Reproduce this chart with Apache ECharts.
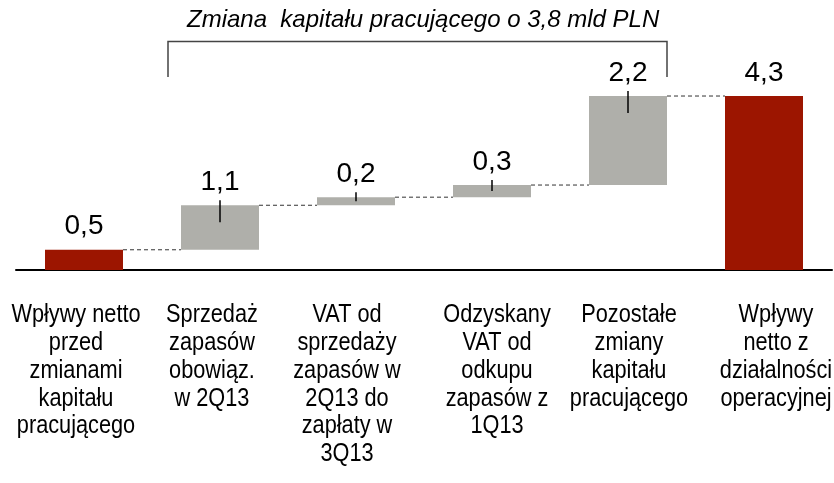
<!DOCTYPE html>
<html>
<head>
<meta charset="utf-8">
<script src="https://cdn.jsdelivr.net/npm/echarts@6/dist/echarts.min.js"></script>
<style>
  html, body { margin: 0; padding: 0; background: #fff; }
  #chart { width: 834px; height: 483px; }
</style>
</head>
<body>
<div id="chart"></div>
<script>
// dane
const categories = [
  'Wpływy netto\nprzed\nzmianami\nkapitału\npracującego',
  'Sprzedaż\nzapasów\nobowiąz.\nw 2Q13',
  'VAT od\nsprzedaży\nzapasów w\n2Q13 do\nzapłaty w\n3Q13',
  'Odzyskany\nVAT od\nodkupu\nzapasów z\n1Q13',
  'Pozostałe\nzmiany\nkapitału\npracującego',
  'Wpływy\nnetto z\ndziałalności\noperacyjnej'
];
const values = [0.5, 1.1, 0.2, 0.3, 2.2, 4.3];
const isTotal = [true, false, false, false, false, true];
const titleText = 'Zmiana  kapitału pracującego o 3,8 mld PLN';

const RED = '#9C1500';
const GREY = '#AFAFAA';
const FONT = '"Liberation Sans", Arial, sans-serif';
// przesunięcie podpisów względem środka słupka (jak w oryginale)
const labelShift = [-8, -8, -9, 5, 1, 12];

// podstawy słupków (waterfall)
let base = [];
let run = 0;
values.forEach((v, i) => {
  if (isTotal[i] && i > 0) { base.push(0); run = v; }
  else { base.push(run); run += v; }
});
const tops = values.map((v, i) => base[i] + v);

let myChart = echarts.init(document.getElementById('chart'));

myChart.setOption({
  animation: false,
  grid: { left: 16, right: 2, top: 67.7, bottom: 213 },
  xAxis: {
    type: 'category',
    data: categories,
    axisLine: { show: true, lineStyle: { color: '#000', width: 2 } },
    axisTick: { show: false },
    axisLabel: { show: false }
  },
  yAxis: {
    type: 'value', min: 0, max: 5, show: false, splitLine: { show: false }
  },
  series: [
    {
      type: 'bar', stack: 'w', barWidth: 78, silent: true,
      itemStyle: { color: 'transparent' },
      data: base
    },
    {
      type: 'bar', stack: 'w', barWidth: 78,
      data: values.map((v, i) => ({
        value: v,
        itemStyle: { color: isTotal[i] ? RED : GREY }
      })),
      label: {
        show: true, position: 'top', distance: 9,
        fontFamily: FONT, fontSize: 28, color: '#000',
        formatter: p => String(p.value).replace('.', ',')
      }
    },
    {
      // linie łączące (przerywane)
      type: 'custom', silent: true, z: 5,
      data: tops.slice(0, -1).map((t, i) => [i, t]),
      renderItem: (params, api) => {
        const i = api.value(0);
        const a = api.coord([i, api.value(1)]);
        const b = api.coord([i + 1, api.value(1)]);
        const half = 39;
        return {
          type: 'line',
          shape: { x1: a[0] + half, y1: a[1], x2: b[0] - half, y2: b[1] },
          style: { stroke: '#333', lineWidth: 1, lineDash: [4, 3] }
        };
      }
    },
    {
      // pionowe kreski przy słupkach zmian
      type: 'custom', silent: true, z: 6,
      data: values.map((v, i) => [i, tops[i], v]).filter((d, i) => !isTotal[i]),
      renderItem: (params, api) => {
        const i = api.value(0);
        const top = api.coord([i, api.value(1)]);
        const h = api.size([0, api.value(2)])[1];
        return {
          type: 'line',
          shape: { x1: top[0], y1: top[1] - 5, x2: top[0], y2: top[1] + Math.min(17, h / 2) },
          style: { stroke: '#000', lineWidth: 1.5 }
        };
      }
    },
    {
      // podpisy kategorii (zwężona czcionka, brak Arial Narrow)
      type: 'custom', silent: true, clip: false,
      data: categories.map((c, i) => [i, 0]),
      renderItem: (params, api) => {
        const p = api.coord([api.value(0), 0]);
        return {
          type: 'text',
          x: p[0] + labelShift[params.dataIndex], y: p[1] + 31,
          scaleX: 0.82,
          style: {
            text: categories[params.dataIndex],
            x: 0, y: 0, align: 'center', verticalAlign: 'top',
            fontFamily: FONT, fontSize: 26.5, lineHeight: 27.8, fill: '#000'
          }
        };
      }
    }
  ],
  graphic: [
    {
      type: 'text', left: 187, top: 8,
      style: {
        text: titleText, fontFamily: FONT, fontStyle: 'italic',
        fontSize: 24, fill: '#000'
      }
    },
    {
      type: 'polyline', silent: true,
      shape: { points: [[168, 77], [168, 41.5], [667, 41.5], [667, 77]] },
      style: { stroke: '#444', lineWidth: 1.5, fill: null }
    }
  ]
});
</script>
</body>
</html>
